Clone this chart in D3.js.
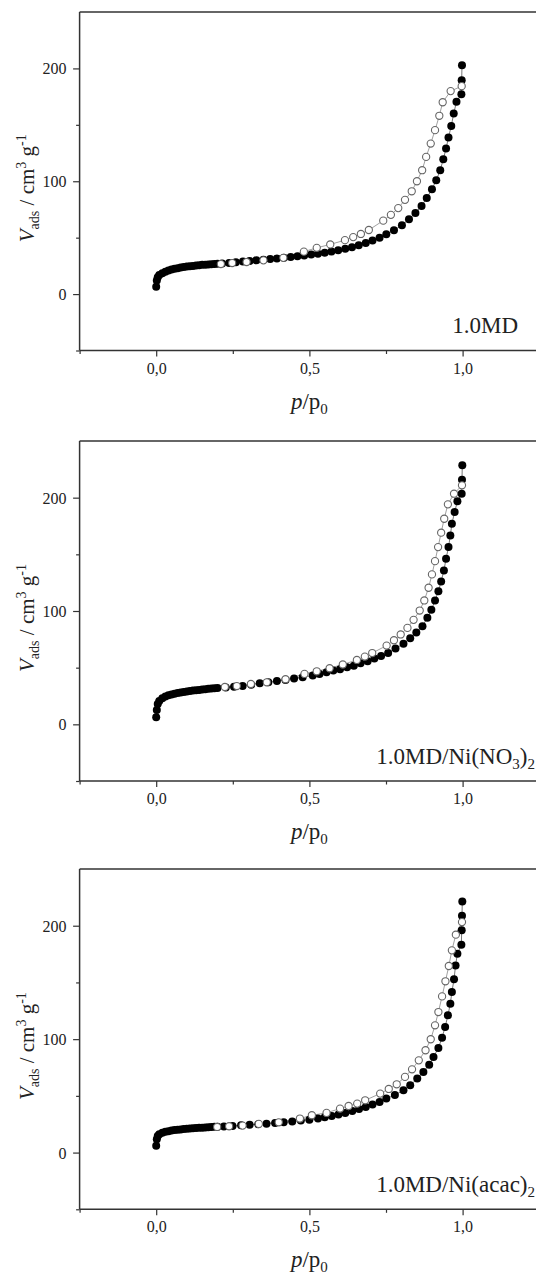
<!DOCTYPE html>
<html><head><meta charset="utf-8">
<script src="https://cdn.jsdelivr.net/npm/d3@7"></script>
<style>
html,body{margin:0;padding:0;background:#fff;}
svg{display:block;}
svg text, svg tspan{font-family:"Liberation Serif","Times New Roman",Times,serif !important;fill:#222;}
</style></head>
<body>
<script>
// ---- data (p/p0, V_ads cm3/g) ----
const panelNames = ["1.0MD", "1.0MD/Ni(NO3)2", "1.0MD/Ni(acac)2"];
const xTickValues = [-0.25, 0, 0.25, 0.5, 0.75, 1.0];
const xTickLabels = {"0": "0,0", "0.5": "0,5", "1": "1,0"};
const yTickValues = [-50, 0, 50, 100, 150, 200];
const yTickLabels = {"0": "0", "100": "100", "200": "200"};

const md_ads = [[0.000,6.5],[0.002,12.0],[0.005,15.0],[0.010,17.0],[0.020,18.5],[0.030,19.7],[0.040,20.8],[0.050,21.7],[0.060,22.4],[0.070,23.0],[0.080,23.5],[0.090,24.0],[0.100,24.4],[0.110,24.7],[0.120,25.0],[0.130,25.3],[0.140,25.6],[0.150,25.9],[0.160,26.1],[0.170,26.3],[0.180,26.5],[0.190,26.7],[0.200,26.9],[0.215,27.1],[0.238,27.6],[0.260,28.2],[0.283,28.8],[0.305,29.4],[0.327,30.0],[0.350,30.5],[0.372,31.1],[0.394,31.6],[0.417,32.2],[0.439,32.9],[0.461,33.5],[0.483,34.2],[0.506,35.0],[0.528,35.8],[0.550,36.7],[0.572,37.7],[0.594,38.8],[0.617,40.1],[0.639,41.6],[0.661,43.3],[0.684,45.2],[0.706,47.5],[0.729,50.0],[0.751,53.0],[0.776,56.5],[0.802,61.0],[0.825,66.3],[0.846,71.9],[0.866,78.1],[0.883,85.2],[0.900,92.9],[0.914,100.9],[0.927,109.8],[0.937,119.5],[0.946,129.0],[0.954,138.8],[0.963,149.0],[0.971,160.0],[0.980,170.4],[0.996,177.0],[0.997,189.5],[0.998,202.7]];
const md_des = [[0.997,184.3],[0.961,179.9],[0.935,170.0],[0.924,158.0],[0.910,145.3],[0.896,133.4],[0.881,121.6],[0.868,109.8],[0.851,100.0],[0.834,91.1],[0.812,83.5],[0.790,76.2],[0.766,70.2],[0.741,65.1],[0.694,56.8],[0.668,53.3],[0.643,50.5],[0.616,47.8],[0.568,44.0],[0.524,41.0],[0.482,37.6],[0.415,32.1],[0.350,29.9],[0.295,28.4],[0.248,27.5],[0.211,26.6]];

const no3_ads = [[0.000,6.2],[0.002,12.7],[0.005,18.0],[0.010,20.5],[0.020,23.0],[0.030,24.5],[0.040,25.6],[0.050,26.4],[0.060,27.0],[0.070,27.6],[0.080,28.1],[0.090,28.6],[0.100,29.0],[0.110,29.4],[0.120,29.8],[0.130,30.1],[0.140,30.4],[0.150,30.7],[0.160,31.0],[0.170,31.3],[0.180,31.6],[0.190,31.8],[0.200,32.0],[0.227,32.5],[0.254,33.1],[0.282,33.9],[0.310,35.0],[0.338,36.2],[0.366,37.1],[0.394,38.3],[0.422,39.2],[0.450,40.4],[0.478,41.5],[0.511,43.0],[0.533,44.5],[0.556,46.0],[0.578,47.4],[0.600,48.6],[0.623,50.4],[0.645,51.8],[0.667,53.9],[0.690,55.7],[0.712,58.0],[0.734,60.4],[0.757,63.0],[0.781,66.9],[0.807,71.0],[0.829,76.0],[0.849,81.0],[0.869,86.6],[0.885,94.0],[0.898,101.0],[0.910,109.3],[0.921,117.5],[0.930,126.1],[0.939,135.8],[0.946,146.1],[0.954,156.4],[0.960,166.7],[0.965,177.0],[0.974,187.3],[0.983,196.8],[0.997,203.5],[0.998,215.9],[0.999,228.6]];
const no3_des = [[0.998,210.9],[0.972,203.5],[0.952,194.1],[0.940,181.4],[0.930,169.1],[0.920,156.4],[0.910,144.0],[0.900,132.3],[0.889,120.5],[0.875,109.3],[0.860,100.4],[0.840,92.2],[0.820,85.1],[0.798,79.3],[0.776,74.2],[0.752,69.5],[0.705,62.9],[0.681,59.8],[0.655,56.8],[0.609,52.8],[0.566,49.5],[0.524,46.8],[0.484,44.5],[0.422,39.8],[0.361,37.1],[0.309,35.6],[0.263,33.8],[0.224,33.0]];

const acac_ads = [[0.000,6.0],[0.002,11.7],[0.005,14.7],[0.010,16.2],[0.020,17.5],[0.030,18.3],[0.040,18.9],[0.050,19.4],[0.060,19.8],[0.070,20.1],[0.080,20.4],[0.090,20.7],[0.100,21.0],[0.110,21.2],[0.120,21.4],[0.130,21.6],[0.140,21.8],[0.150,22.0],[0.160,22.2],[0.170,22.3],[0.180,22.5],[0.190,22.7],[0.200,22.8],[0.221,23.1],[0.249,23.5],[0.277,24.0],[0.305,24.5],[0.333,25.0],[0.360,25.5],[0.388,26.1],[0.416,26.7],[0.444,27.4],[0.472,28.2],[0.500,29.0],[0.528,30.0],[0.550,31.1],[0.573,32.3],[0.595,33.5],[0.617,35.0],[0.640,36.7],[0.662,38.5],[0.684,40.2],[0.706,42.3],[0.729,44.6],[0.751,47.6],[0.779,50.8],[0.807,54.9],[0.829,59.3],[0.852,65.2],[0.872,71.1],[0.891,77.5],[0.905,84.3],[0.921,92.2],[0.933,101.3],[0.943,110.7],[0.952,121.0],[0.960,131.3],[0.965,141.6],[0.972,152.7],[0.977,165.0],[0.983,175.3],[0.996,183.3],[0.997,195.9],[0.998,208.8],[0.999,221.4]];
const acac_des = [[0.998,203.2],[0.978,192.1],[0.965,178.3],[0.955,164.5],[0.944,151.0],[0.933,137.7],[0.921,123.9],[0.910,112.2],[0.896,99.9],[0.879,90.2],[0.857,81.3],[0.835,73.4],[0.812,66.7],[0.785,60.2],[0.759,56.1],[0.731,52.0],[0.682,46.1],[0.656,43.2],[0.628,41.1],[0.600,38.8],[0.556,35.0],[0.508,32.9],[0.469,30.0],[0.400,26.7],[0.335,25.3],[0.282,23.8],[0.238,23.2],[0.199,22.6]];

const adsSeries = [md_ads, no3_ads, acac_ads];
const desSeries = [md_des, no3_des, acac_des];

// ---- layout ----
const W = 536, H = 1277;
const panelTops = [12, 441, 869];
const panelBottoms = [350.5, 781, 1209.3];
const labelPos = [{x:518, y:333}, {x:535, y:763.5}, {x:535, y:1192}];
const axisColor = "#333";
const FONT = "'Liberation Serif','Times New Roman',Times,serif";

const svg = d3.select("body").append("svg").attr("width", W).attr("height", H)
  .attr("font-family", FONT);
svg.append("rect").attr("width", W).attr("height", H).attr("fill", "#fff");

const x = d3.scaleLinear().domain([-0.25, 1.25]).range([79.6, 539.2]);

function subText(sel, parts) {
  parts.forEach(p => {
    const t = sel.append("tspan").text(p.t);
    if (p.style) t.attr("font-style", p.style);
    if (p.size) t.attr("font-size", p.size);
    if (p.dy) t.attr("dy", p.dy);
  });
}

for (let i = 0; i < 3; i++) {
  const top = panelTops[i], bot = panelBottoms[i];
  const y = d3.scaleLinear().domain([-50, 250]).range([bot, top]);
  const g = svg.append("g");

  // frame lines (left, bottom, top)
  g.append("line").attr("x1", x(-0.25)).attr("x2", x(-0.25)).attr("y1", top).attr("y2", bot)
    .attr("stroke", axisColor).attr("stroke-width", 1.5);
  g.append("line").attr("x1", x(-0.25)).attr("x2", W).attr("y1", bot).attr("y2", bot)
    .attr("stroke", axisColor).attr("stroke-width", 1.5);
  g.append("line").attr("x1", x(-0.25)).attr("x2", W).attr("y1", top).attr("y2", top)
    .attr("stroke", axisColor).attr("stroke-width", 1.5);

  // x axis
  const xAxis = d3.axisBottom(x).tickValues(xTickValues)
    .tickSize(0).tickFormat(d => xTickLabels[String(d)] || "");
  const gx = g.append("g").attr("transform", `translate(0,${bot})`).call(xAxis)
    .attr("font-family", FONT);
  gx.select(".domain").remove();
  gx.selectAll(".tick line").attr("y2", d => (d === 0 || d === 0.5 || d === 1) ? 6 : 3.5)
    .attr("stroke", axisColor).attr("stroke-width", 1.2);
  gx.selectAll(".tick text").attr("y", 0).attr("dy", 0).attr("transform", "translate(0,23)")
    .attr("font-size", 16).attr("fill", "#222");

  // y axis
  const yAxis = d3.axisLeft(y).tickValues(yTickValues)
    .tickSize(0).tickFormat(d => yTickLabels[String(d)] || "");
  const gy = g.append("g").attr("transform", `translate(${x(-0.25)},0)`).call(yAxis)
    .attr("font-family", FONT);
  gy.select(".domain").remove();
  gy.selectAll(".tick line").attr("x2", d => (d % 100 === 0) ? -6.5 : -3.5)
    .attr("stroke", axisColor).attr("stroke-width", 1.2);
  gy.selectAll(".tick text").attr("x", -13).attr("dy", "0.34em")
    .attr("font-size", 16).attr("fill", "#222");

  // connecting lines
  const line = d3.line().x(d => x(d[0])).y(d => y(d[1]));
  g.append("path").datum(adsSeries[i]).attr("d", line).attr("fill", "none")
    .attr("stroke", "#555").attr("stroke-width", 0.8);
  g.append("path").datum(desSeries[i]).attr("d", line).attr("fill", "none")
    .attr("stroke", "#888").attr("stroke-width", 0.8);

  // markers
  g.append("g").selectAll("circle").data(adsSeries[i]).join("circle")
    .attr("cx", d => x(d[0])).attr("cy", d => y(d[1])).attr("r", 4.0)
    .attr("fill", "#000");
  g.append("g").selectAll("circle").data(desSeries[i]).join("circle")
    .attr("cx", d => x(d[0])).attr("cy", d => y(d[1])).attr("r", 3.6)
    .attr("fill", "#fff").attr("stroke", "#666").attr("stroke-width", 1.1);

  // x title
  const xt = g.append("text").attr("x", x(0.5)).attr("y", bot + 58)
    .attr("text-anchor", "middle").attr("font-size", 23);
  subText(xt, [{t:"p", style:"italic"}, {t:"/p"}, {t:"0", size:15, dy:5}]);

  // y title
  const cy = (top + bot) / 2 + 7;
  const yt = g.append("text").attr("transform", `translate(33.5,${cy}) rotate(-90)`)
    .attr("text-anchor", "middle").attr("font-size", 21);
  subText(yt, [{t:"V", style:"italic"}, {t:"ads", size:14, dy:5}, {t:" / cm", dy:-5},
               {t:"3", size:14, dy:-8}, {t:" g", dy:8}, {t:"-1", size:14, dy:-8}]);

  // panel label
  const lt = g.append("text").attr("x", labelPos[i].x).attr("y", labelPos[i].y)
    .attr("text-anchor", "end").attr("font-size", 23);
  if (i === 0) subText(lt, [{t:"1.0MD"}]);
  if (i === 1) subText(lt, [{t:"1.0MD/Ni(NO"}, {t:"3", size:15, dy:5}, {t:")", dy:-5}, {t:"2", size:15, dy:5}]);
  if (i === 2) subText(lt, [{t:"1.0MD/Ni(acac)"}, {t:"2", size:15, dy:5}]);
}
</script>
</body></html>
